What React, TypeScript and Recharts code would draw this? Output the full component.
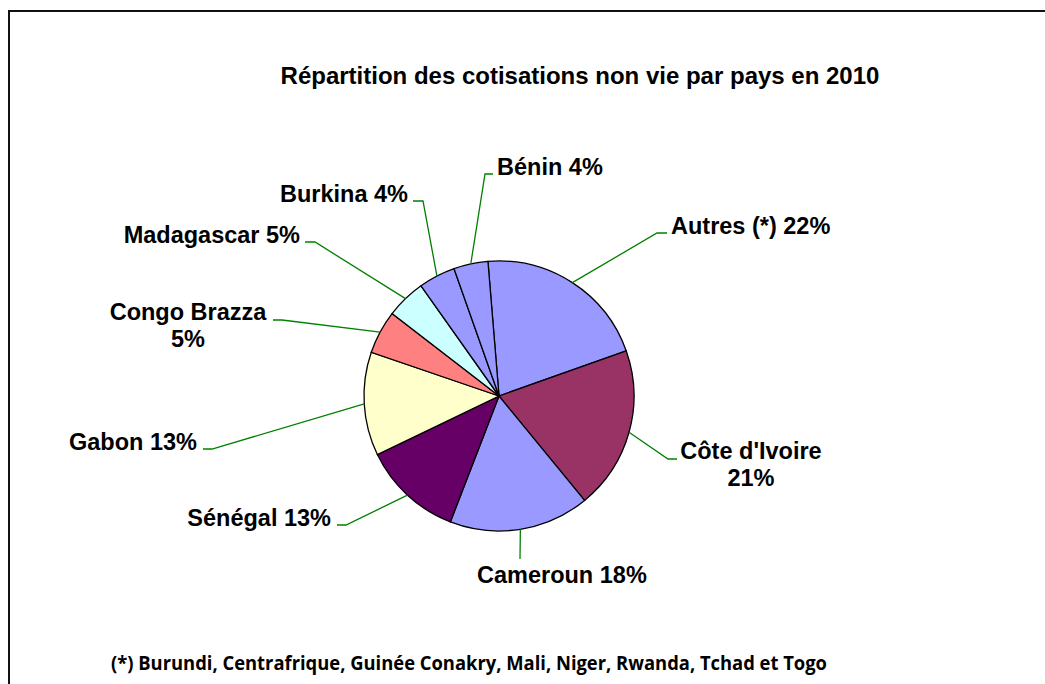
import React from 'react';
import { PieChart, Pie, Cell } from 'recharts';

document.body.style.margin = '0';

const countries = ['Autres (*)', "Côte d'Ivoire", 'Cameroun', 'Sénégal', 'Gabon', 'Congo Brazza', 'Madagascar', 'Burkina', 'Bénin'];
// shares measured from the slice angles (the printed labels add up to 105%)
const shares = [20.9, 19.5, 16.8, 12.0, 12.4, 5.2, 4.75, 4.4, 4.1];
const shownPct = ['22%', '21%', '18%', '13%', '13%', '5%', '5%', '4%', '4%'];
const sliceColors = ['#9999FF', '#993366', '#9999FF', '#660066', '#FFFFCC', '#FF8080', '#CCFFFF', '#9999FF', '#9999FF'];

const TITLE = 'Répartition des cotisations non vie par pays en 2010';
const FOOTNOTE = '(*) Burundi, Centrafrique, Guinée Conakry, Mali, Niger, Rwanda, Tchad et Togo';

const data = countries.map((name, i) => ({ name, value: shares[i], pct: shownPct[i] }));

// manual label placement (elbow of the leader line, end of the short tail, text anchor)
const LABEL_LAYOUT: any[] = [
  { ex: 657, ey: 233, tx: 667, x: 671, anchor: 'start', lines: 1 },
  { ex: 668, ey: 459, tx: 677, x: 751, anchor: 'middle', lines: 2 },
  { ex: 520, ey: 559, tx: 520, x: 477, anchor: 'start', lines: 1, below: true },
  { ex: 346, ey: 525, tx: 337, x: 331, anchor: 'end', lines: 1 },
  { ex: 212, ey: 449, tx: 203, x: 197, anchor: 'end', lines: 1 },
  { ex: 282, ey: 320, tx: 273, x: 188, anchor: 'middle', lines: 2 },
  { ex: 315, ey: 242, tx: 305, x: 300, anchor: 'end', lines: 1 },
  { ex: 423, ey: 201, tx: 413, x: 408, anchor: 'end', lines: 1 },
  { ex: 485, ey: 174, tx: 493, x: 497, anchor: 'start', lines: 1 },
];

const RAD = Math.PI / 180;

function renderLabel(props: any) {
  const { cx, cy, midAngle, outerRadius, index } = props;
  const lay = LABEL_LAYOUT[index];
  const sx = cx + outerRadius * Math.cos(-midAngle * RAD);
  const sy = cy + outerRadius * Math.sin(-midAngle * RAD);
  const d = `M${sx},${sy}L${lay.ex},${lay.ey}L${lay.tx},${lay.ey}`;
  const name = countries[index];
  const pct = shownPct[index];
  const style = { fontFamily: '"Liberation Sans", Arial, sans-serif', fontWeight: 700, fontSize: 23.5, fill: '#000' };
  let text;
  if (lay.lines === 2) {
    text = (
      <text x={lay.x} y={lay.ey} textAnchor={lay.anchor} style={style}>
        <tspan x={lay.x} dy={0}>{name}</tspan>
        <tspan x={lay.x} dy={26.5}>{pct}</tspan>
      </text>
    );
  } else {
    text = (
      <text x={lay.x} y={lay.below ? lay.ey + 24 : lay.ey + 1} textAnchor={lay.anchor} style={style}>
        {`${name} ${pct}`}
      </text>
    );
  }
  return (
    <g key={`lab-${index}`}>
      <path d={d} stroke="#008000" strokeWidth={1.3} fill="none" />
      {text}
    </g>
  );
}

export default function App() {
  return (
    <div style={{ position: 'relative', width: 1045, height: 684, overflow: 'hidden', background: '#fff' }}>
      <div
        style={{
          position: 'absolute',
          left: 8,
          top: 10,
          width: 1100,
          height: 800,
          border: '2px solid #111',
          boxSizing: 'border-box',
        }}
      />
      <PieChart width={1045} height={684} margin={{ top: 0, right: 0, bottom: 0, left: 0 }} style={{ position: 'absolute', left: 0, top: 0 }}>
        <Pie
          data={data}
          dataKey="value"
          nameKey="name"
          cx={499}
          cy={396}
          outerRadius={135}
          startAngle={94.7}
          endAngle={-265.3}
          stroke="#000"
          strokeWidth={1.3}
          label={renderLabel}
          labelLine={false}
          isAnimationActive={false}
        >
          {data.map((d, i) => (
            <Cell key={d.name} fill={sliceColors[i]} />
          ))}
        </Pie>
      </PieChart>
      <svg width={1045} height={684} style={{ position: 'absolute', left: 0, top: 0, pointerEvents: 'none' }}>
        <text
          x={580}
          y={83.5}
          textAnchor="middle"
          style={{ fontFamily: '"Liberation Sans", Arial, sans-serif', fontWeight: 700, fontSize: 24, fill: '#000' }}
        >
          {TITLE}
        </text>
        <text
          x={111}
          y={670}
          textLength={716}
          lengthAdjust="spacingAndGlyphs"
          style={{ fontFamily: '"Liberation Sans Narrow", "Open Sans", sans-serif', fontWeight: 700, fontSize: 20, fill: '#000' }}
        >
          {FOOTNOTE}
        </text>
      </svg>
    </div>
  );
}
